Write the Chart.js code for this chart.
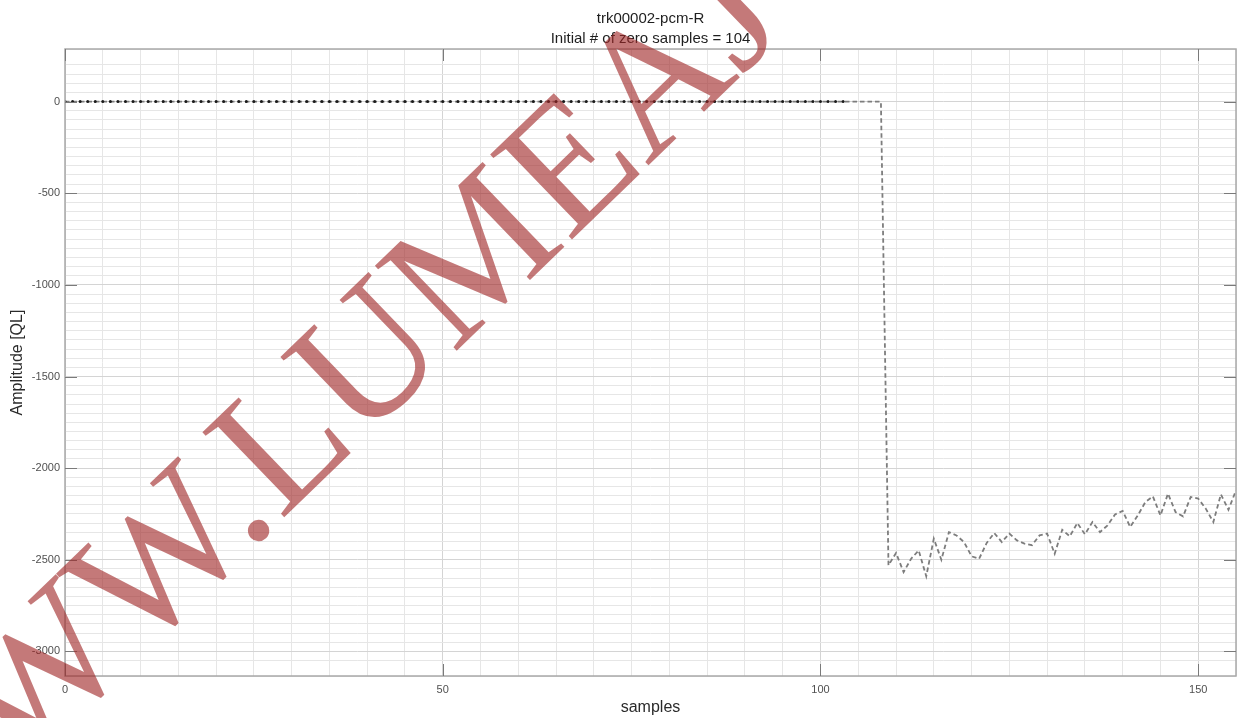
<!DOCTYPE html>
<html>
<head>
<meta charset="utf-8">
<script src="https://cdn.jsdelivr.net/npm/chart.js@4/dist/chart.umd.min.js"></script>
<style>
  html, body { margin: 0; padding: 0; background: #fff; overflow: hidden; }
  #wrap { width: 1237px; height: 718px; overflow: hidden; }
</style>
</head>
<body>
<div id="wrap"><canvas id="c" width="1240" height="718"></canvas></div>
<script>
// ---- text ----
const titleLines = ['trk00002-pcm-R', 'Initial # of zero samples = 104'];
const xAxisLabel = 'samples';
const yAxisLabel = 'Amplitude [QL]';
const watermarkText = 'WWW.LUMEAJ';

// ---- axis ranges and labelled ticks ----
const xRange = [0, 155];
const yRange = [-3134, 287];
const xTickLabels = [0, 50, 100, 150];
const yTickLabels = [0, -500, -1000, -1500, -2000, -2500, -3000];
const xMinorStep = 5;
const yMinorStep = 50;

// ---- leading zero samples (black dots) ----
const zeroSampleIdx = [
  0, 1, 2, 3, 4, 5, 6, 7, 8, 9, 10, 11, 12, 13, 14, 15, 16, 17, 18, 19,
  20, 21, 22, 23, 24, 25, 26, 27, 28, 29, 30, 31, 32, 33, 34, 35, 36, 37, 38, 39,
  40, 41, 42, 43, 44, 45, 46, 47, 48, 49, 50, 51, 52, 53, 54, 55, 56, 57, 58, 59,
  60, 61, 62, 63, 64, 65, 66, 67, 68, 69, 70, 71, 72, 73, 74, 75, 76, 77, 78, 79,
  80, 81, 82, 83, 84, 85, 86, 87, 88, 89, 90, 91, 92, 93, 94, 95, 96, 97, 98, 99,
  100, 101, 102, 103
];
const zeroSampleVals = [
  0, 0, 0, 0, 0, 0, 0, 0, 0, 0, 0, 0, 0, 0, 0, 0, 0, 0, 0, 0,
  0, 0, 0, 0, 0, 0, 0, 0, 0, 0, 0, 0, 0, 0, 0, 0, 0, 0, 0, 0,
  0, 0, 0, 0, 0, 0, 0, 0, 0, 0, 0, 0, 0, 0, 0, 0, 0, 0, 0, 0,
  0, 0, 0, 0, 0, 0, 0, 0, 0, 0, 0, 0, 0, 0, 0, 0, 0, 0, 0, 0,
  0, 0, 0, 0, 0, 0, 0, 0, 0, 0, 0, 0, 0, 0, 0, 0, 0, 0, 0, 0,
  0, 0, 0, 0
];

// ---- PCM waveform (grey dashed) ----
const pcmIdx = [
  0, 108, 109, 110, 111, 112, 113, 114, 115, 116, 117, 118, 119, 120,
  121, 122, 123, 124, 125, 126, 127, 128, 129, 130, 131, 132, 133, 134,
  135, 136, 137, 138, 139, 140, 141, 142, 143, 144, 145, 146, 147, 148,
  149, 150, 151, 152, 153, 154, 155
];
const pcmVals = [
  0, 0, -2530, -2463, -2567, -2494, -2449, -2590, -2385, -2500, -2349, -2367, -2403, -2481,
  -2494, -2408, -2354, -2403, -2357, -2394, -2412, -2420, -2367, -2357, -2467, -2336, -2372, -2299,
  -2361, -2294, -2349, -2312, -2252, -2234, -2321, -2258, -2185, -2154, -2258, -2139, -2240, -2263,
  -2157, -2166, -2221, -2294, -2143, -2227, -2121
];

const toPoints = (xs, ys) => xs.map((x, i) => ({ x: x, y: ys[i] }));

const FONT = '"Liberation Sans", Arial, Helvetica, sans-serif';

// white page background
const bgPlugin = {
  id: 'bg',
  beforeDraw(chart) {
    const ctx = chart.ctx;
    ctx.save();
    ctx.fillStyle = '#ffffff';
    ctx.fillRect(0, 0, chart.width, chart.height);
    ctx.restore();
  }
};

// axes box, inward tick marks, titles and watermark
const framePlugin = {
  id: 'frame',
  afterDatasetsDraw(chart) {
    const { ctx, chartArea: a, scales } = chart;
    const xs = scales.x, ys = scales.y;
    ctx.save();
    // box
    ctx.strokeStyle = '#a9a9a9';
    ctx.lineWidth = 1.5;
    ctx.strokeRect(a.left, a.top, a.right - a.left, a.bottom - a.top);
    // inward ticks
    ctx.strokeStyle = '#7a7a7a';
    ctx.lineWidth = 1;
    const tl = 12;
    ctx.beginPath();
    xTickLabels.forEach(v => {
      const px = Math.round(xs.getPixelForValue(v)) + 0.5;
      ctx.moveTo(px, a.bottom); ctx.lineTo(px, a.bottom - tl);
      ctx.moveTo(px, a.top); ctx.lineTo(px, a.top + tl);
    });
    yTickLabels.forEach(v => {
      const py = Math.round(ys.getPixelForValue(v)) + 0.5;
      ctx.moveTo(a.left, py); ctx.lineTo(a.left + tl, py);
      ctx.moveTo(a.right, py); ctx.lineTo(a.right - tl, py);
    });
    ctx.stroke();
    ctx.restore();
  },
  afterDraw(chart) {
    const { ctx, chartArea: a } = chart;
    const cx = (a.left + a.right) / 2;
    ctx.save();
    // title
    ctx.fillStyle = '#1e1e1e';
    ctx.textAlign = 'center';
    ctx.textBaseline = 'middle';
    ctx.font = '15px ' + FONT;
    ctx.fillText(titleLines[0], cx, 19);
    ctx.fillText(titleLines[1], cx, 39);
    // axis titles
    ctx.fillStyle = '#2a2a2a';
    ctx.font = '16px ' + FONT;
    ctx.fillText(xAxisLabel, cx, 708);
    ctx.save();
    ctx.translate(18, (a.top + a.bottom) / 2);
    ctx.rotate(-Math.PI / 2);
    ctx.fillText(yAxisLabel, 0, 0);
    ctx.restore();
    // watermark, placed so the period sits at (258, 530)
    const fs = 180;
    ctx.font = fs + 'px "Liberation Serif", "Times New Roman", serif';
    ctx.fillStyle = 'rgba(160, 38, 38, 0.62)';
    ctx.textAlign = 'left';
    ctx.textBaseline = 'alphabetic';
    const lead = ctx.measureText('WWW.').width - ctx.measureText('.').width / 2;
    ctx.translate(258, 530);
    ctx.rotate(-44 * Math.PI / 180);
    ctx.fillText(watermarkText, -lead, fs * 0.05);
    ctx.restore();
  }
};

const minorGrid = '#e6e6e6';
const majorGrid = '#d4d4d4';

new Chart(document.getElementById('c'), {
  type: 'scatter',
  data: {
    datasets: [
      {
        label: 'pcm',
        data: toPoints(pcmIdx, pcmVals),
        showLine: true,
        borderColor: '#7d7d7d',
        borderWidth: 1.8,
        borderDash: [4.5, 3],
        pointRadius: 0,
        tension: 0,
        order: 2
      },
      {
        label: 'zeros',
        data: toPoints(zeroSampleIdx, zeroSampleVals),
        showLine: false,
        pointRadius: 1.5,
        pointBackgroundColor: '#1a1a1a',
        pointBorderWidth: 0,
        order: 1
      }
    ]
  },
  options: {
    responsive: false,
    animation: false,
    devicePixelRatio: 1,
    layout: { padding: { left: 0, right: 0, top: 49, bottom: 0 } },
    plugins: {
      legend: { display: false },
      title: { display: false },
      tooltip: { enabled: false }
    },
    scales: {
      x: {
        type: 'linear',
        min: xRange[0],
        max: xRange[1],
        border: { display: false },
        grid: {
          drawTicks: false,
          lineWidth: 1,
          color: c => (xTickLabels.includes(c.tick.value) ? majorGrid : minorGrid)
        },
        ticks: {
          stepSize: xMinorStep,
          autoSkip: false,
          maxRotation: 0,
          padding: 7,
          color: '#505050',
          font: { family: FONT, size: 11 },
          callback: v => (xTickLabels.includes(v) ? String(v) : '')
        },
        afterFit: s => { s.height = 42; s.paddingLeft = 0; s.paddingRight = 0; }
      },
      y: {
        type: 'linear',
        min: yRange[0],
        max: yRange[1],
        border: { display: false },
        grid: {
          drawTicks: false,
          lineWidth: 1,
          color: c => (yTickLabels.includes(c.tick.value) ? majorGrid : minorGrid)
        },
        ticks: {
          stepSize: yMinorStep,
          autoSkip: false,
          padding: 5,
          color: '#505050',
          font: { family: FONT, size: 11 },
          callback: v => (yTickLabels.includes(v) ? String(v) : '')
        },
        afterFit: s => { s.width = 65; s.paddingTop = 0; s.paddingBottom = 0; }
      }
    }
  },
  plugins: [bgPlugin, framePlugin]
});
</script>
</body>
</html>
